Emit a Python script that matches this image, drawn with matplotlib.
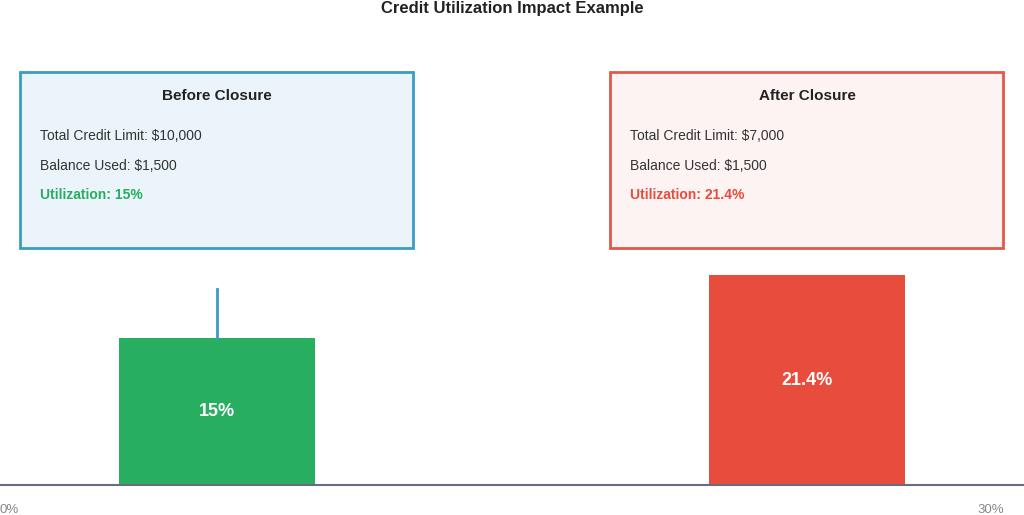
import matplotlib
matplotlib.use("Agg")
import matplotlib.pyplot as plt
from matplotlib.patches import Rectangle

categories = ["Before Closure", "After Closure"]
utilization = [15.0, 21.4]
limits = ["$10,000", "$7,000"]
balances = ["$1,500", "$1,500"]
bar_colors = ["#27ae60", "#e74c3c"]
box_edges = ["#3a9cc4", "#e05a4b"]
box_fills = ["#eaf4fa", "#fdf3f3"]

W, H = 1024, 515
fig = plt.figure(figsize=(W/100, H/100), dpi=100)
fig.patch.set_facecolor("white")
F = "Liberation Sans"

# bar axes: y 0..30 maps to pixels 485..191
ax = fig.add_axes([0, (H-485)/H, 1, (485-191)/H])
ax.set_xlim(-217/590, (W-217)/590)
ax.set_ylim(0, 30)
ax.axis("off")
bars = ax.bar(range(len(categories)), utilization, width=196/590, color=bar_colors)
for i, v in enumerate(utilization):
    ax.text(i, v/2, f"{v:g}%", ha="center", va="center", color="white",
            fontsize=13, fontweight="bold", family=F)
ax.plot([0, 0], [15, 20], color="#3a9cc4", lw=2)

# overlay in pixel coordinates
ov = fig.add_axes([0, 0, 1, 1])
ov.set_xlim(0, W); ov.set_ylim(H, 0); ov.axis("off")
ov.plot([0, W], [485, 485], color="#6b6b80", lw=1.5)
ov.text(0, 510, "0%", fontsize=9.5, color="#888888", va="center", family=F)
ov.text(1004, 510, "30%", fontsize=9.5, color="#888888", va="center", ha="right", family=F)
ov.text(512, 8, "Credit Utilization Impact Example", ha="center", va="center",
        fontsize=12, fontweight="bold", color="#222222", family=F)
for i, x0 in enumerate([20, 610]):
    ov.add_patch(Rectangle((x0, 72), 393, 176, facecolor=box_fills[i],
                           edgecolor=box_edges[i], lw=2))
    ov.text(x0+197, 96, categories[i], ha="center", va="center", fontsize=11,
            fontweight="bold", color="#222222", family=F)
    ov.text(x0+20, 136, f"Total Credit Limit: {limits[i]}", va="center",
            fontsize=10, color="#333333", family=F)
    ov.text(x0+20, 166, f"Balance Used: {balances[i]}", va="center",
            fontsize=10, color="#333333", family=F)
    ov.text(x0+20, 195, f"Utilization: {utilization[i]:g}%", va="center",
            fontsize=10, fontweight="bold", color=bar_colors[i], family=F)

fig.savefig("out.png", dpi=100)
